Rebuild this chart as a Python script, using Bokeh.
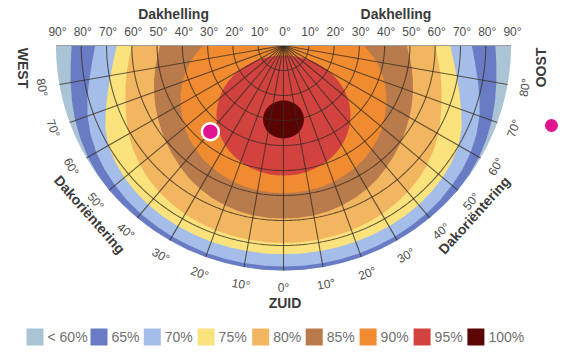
import numpy as np
from bokeh.plotting import figure
from bokeh.models import Range1d
from bokeh.embed import file_html
from bokeh.resources import INLINE
from bokeh.core.properties import value

# ---------------- data ----------------
# orientation (deg away from south) at which the band boundaries were read
orient_deg = [0, 5, 10, 15, 20, 25, 30, 35, 40, 45, 50, 55, 60, 65, 70, 75, 80, 85, 90]
# roof tilt (deg) where each yield level ends, per orientation (same on west and east)
edge_65 = [90, 90, 90, 90, 90, 90, 90, 90, 90, 90, 90, 89.8, 89.3, 88.6, 87.7, 86.6, 85.5, 84.5, 83.8]
edge_70 = [88.4, 88.4, 88.4, 88.4, 88.4, 88.3, 88.2, 88.0, 87.8, 87.5, 87.0, 86.4, 85.5, 84.2, 82.5, 80.3, 78.0, 76.0, 74.5]
edge_75 = [83.5, 83.5, 83.5, 83.5, 83.5, 83.5, 83.5, 83.4, 83.2, 82.8, 82.2, 81.3, 80.0, 77.8, 74.8, 72.0, 69.5, 67.5, 66.0]
edge_80 = [79.0, 79.0, 78.9, 78.8, 78.6, 78.3, 77.9, 77.3, 76.5, 75.5, 74.2, 72.6, 70.8, 68.6, 66.5, 64.7, 63.0, 61.3, 60.0]
edge_85 = [69.2, 69.2, 69.0, 68.6, 68.0, 67.2, 66.2, 65.0, 63.5, 62.0, 60.5, 59.0, 57.5, 56.0, 54.5, 53.0, 51.5, 50.0, 48.8]
edge_90 = [59.0, 59.0, 58.8, 58.5, 58.0, 57.3, 56.5, 55.5, 54.2, 52.7, 51.0, 49.0, 47.0, 44.8, 42.5, 40.0, 37.5, 34.5, 31.7]
# islands of highest yield (south, centre tilt, half-width, half-height in tilt degrees)
island_95 = dict(tilt=28.0, half_w=26.5, half_h=24.0)
island_100 = dict(tilt=29.6, half_w=8.1, half_h=7.6)

levels = ["< 60%", "65%", "70%", "75%", "80%", "85%", "90%", "95%", "100%"]
colors = ["#aac4d5", "#6a7bc6", "#a4bde9", "#fae37c", "#f3b660", "#b97b4c", "#f08b30", "#d2423f", "#5a0404"]

tilt_ticks = [0, 10, 20, 30, 40, 50, 60, 70, 80, 90]
orient_ticks = [0, 10, 20, 30, 40, 50, 60, 70, 80]

example_tilt = 45
example_orient = -40   # west of south

# ---------------- figure ----------------
SX, SY = 2.528, 2.5          # pixels per tilt degree
CX, CY = 283, 45             # centre of the diagram in figure pixels
W, H = 567, 361
p = figure(width=W, height=H, output_backend="svg", toolbar_location=None,
           x_range=Range1d(-CX / SX, (W - CX) / SX),
           y_range=Range1d(-(H - CY) / SY, CY / SY),
           x_axis_type=None, y_axis_type=None, min_border=0,
           outline_line_color=None, background_fill_color="white")
p.grid.visible = False

FONT = value("Liberation Sans")


def polar(t, th_deg):
    th = np.radians(th_deg)
    return np.asarray(t) * np.sin(th), -np.asarray(t) * np.cos(th)


# base semicircle (< 60 %)
arc = np.linspace(-90, 90, 361)
bx, by = polar(np.full_like(arc, 90.0), arc)
p.patch(np.r_[0, bx], np.r_[0, by], fill_color=colors[0], line_color=None)

# nested bands that contain the flat-roof centre
th_full = np.array([-o for o in orient_deg[::-1]] + orient_deg[1:], dtype=float)
for edge, col in zip([edge_65, edge_70, edge_75, edge_80, edge_85, edge_90], colors[1:7]):
    t_full = np.array(edge[::-1] + edge[1:], dtype=float)
    x, y = polar(t_full, th_full)
    p.patch(np.r_[0, x], np.r_[0, y], fill_color=col, line_color=None)

# islands
p.ellipse(x=[0], y=[-island_95["tilt"]], width=[2 * island_95["half_w"]],
          height=[2 * island_95["half_h"]], fill_color=colors[7], line_color=None)
p.ellipse(x=[0], y=[-island_100["tilt"]], width=[2 * island_100["half_w"]],
          height=[2 * island_100["half_h"]], fill_color=colors[8], line_color=None)

# grid: tilt circles and orientation rays
gx, gy = [], []
for t in tilt_ticks[1:-1]:
    cx_, cy_ = polar(np.full_like(arc, float(t)), arc)
    gx.append(cx_); gy.append(cy_)
for o in range(-80, 81, 10):
    rx, ry = polar([0, 90], [o, o])
    gx.append(rx); gy.append(ry)
p.multi_line(gx, gy, line_color="#352c22", line_alpha=0.75, line_width=1.1)
p.line([-90, 90], [0, 0], line_color="#9a9a9a", line_width=1)

# example roof
ex, ey = polar([example_tilt], [example_orient])
p.scatter(ex, ey, size=17, fill_color="#e1138e", line_color="white", line_width=2.5)
p.scatter([106], [-32], size=13, fill_color="#e1138e", line_color=None)

# top tilt ticks
tx = [-t for t in tilt_ticks[::-1]] + tilt_ticks[1:]
tl = [f"{t}°" for t in tilt_ticks[::-1]] + [f"{t}°" for t in tilt_ticks[1:]]
p.text(x=tx, y=[5.3] * len(tx), text=tl, text_align="center", text_baseline="middle",
       text_font=FONT, text_font_size="12px", text_color="#4d4d4d", x_offset=1.5)
p.text(x=[-43.5, 44.5], y=[12.6, 12.6], text=["Dakhelling", "Dakhelling"], text_align="center",
       text_baseline="middle", text_font=FONT, text_font_size="14px", text_font_style="bold",
       text_color="#3a3a3a")

# orientation ticks around the arc
ot = [-o for o in orient_ticks[::-1]] + orient_ticks[1:]
ox, oy = polar(np.full(len(ot), 97.0), ot)
p.text(x=ox, y=oy, text=[f"{abs(o)}°" for o in ot], angle=[np.radians(o) for o in ot],
       text_align="center", text_baseline="middle", text_font=FONT, text_font_size="12px",
       text_color="#4d4d4d")

dx, dy = polar([102.2, 101.5], [-48.6, 48.0])
p.text(x=dx, y=dy, text=["Dakoriëntering", "Dakoriëntering"],
       angle=[np.radians(-48.6), np.radians(48.0)], text_align="center", text_baseline="middle",
       text_font=FONT, text_font_size="14px", text_font_style="bold", text_color="#3a3a3a")

p.text(x=[-103.2, 101.8], y=[-9.0, -8.8], text=["WEST", "OOST"],
       angle=[np.radians(-90), np.radians(90)], text_align="center", text_baseline="middle",
       text_font=FONT, text_font_size="14px", text_font_style="bold", text_color="#3a3a3a")
p.text(x=[0.6], y=[-102.8], text=["ZUID"], text_align="center", text_baseline="middle",
       text_font=FONT, text_font_size="14px", text_font_style="bold", text_color="#3a3a3a")

# legend (swatch centres in pixels, laid out along one row)
legend_px = [34.5, 98.5, 151.8, 205.6, 260.2, 313.7, 367.6, 421.6, 475.4]
lx = [(v - CX) / SX for v in legend_px]
ly = [-116.6] * len(levels)
p.scatter(lx, ly, marker="square", size=17, fill_color=colors, line_color=None)
p.text(x=lx, y=ly, text=levels, x_offset=12.5, text_align="left", text_baseline="middle",
       text_font=FONT, text_font_size="14px", text_color="#707070")

open("out.html", "w").write(file_html(p, INLINE))
